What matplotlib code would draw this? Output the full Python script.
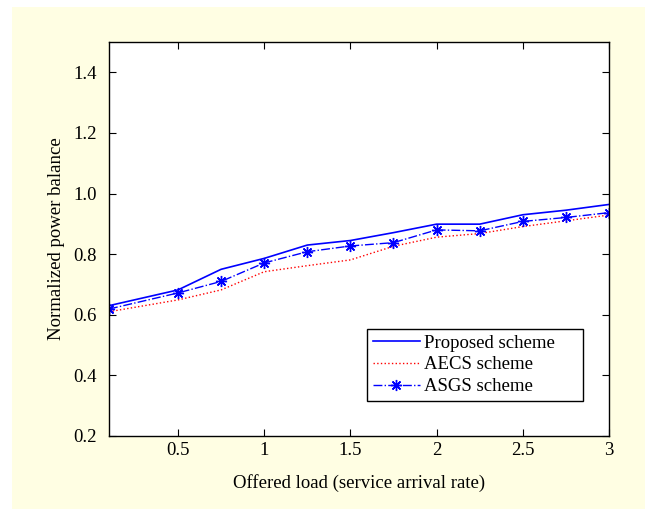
import matplotlib.pyplot as plt
from matplotlib.patches import Rectangle

# datos
load = [0.1, 0.5, 0.75, 1.0, 1.25, 1.5, 1.75, 2.0, 2.25, 2.5, 2.75, 3.0]
proposed = [0.630, 0.682, 0.750, 0.786, 0.830, 0.845, 0.871, 0.899, 0.899, 0.930, 0.945, 0.964]
aecs = [0.610, 0.649, 0.682, 0.742, 0.762, 0.781, 0.826, 0.856, 0.868, 0.891, 0.910, 0.929]
asgs = [0.619, 0.672, 0.710, 0.771, 0.808, 0.827, 0.838, 0.880, 0.877, 0.908, 0.921, 0.937]

xticks = [0.5, 1, 1.5, 2, 2.5, 3]
xtick_labels = ["0.5", "1", "1.5", "2", "2.5", "3"]
yticks = [0.2, 0.4, 0.6, 0.8, 1.0, 1.2, 1.4]
ytick_labels = ["0.2", "0.4", "0.6", "0.8", "1.0", "1.2", "1.4"]

FS = 13.5
plt.rcParams["font.family"] = ["Liberation Serif", "DejaVu Serif"]

fig = plt.figure(figsize=(6.45, 5.09), dpi=100)
fig.patch.set_facecolor("white")

# fondo amarillo claro
fig.patches.append(Rectangle((12 / 645, 0), 1 - 12 / 645, 1 - 7 / 509,
                             transform=fig.transFigure, facecolor="#FFFEE3",
                             edgecolor="none", zorder=-10))

ax = fig.add_axes([109 / 645, 73 / 509, 500 / 645, 394 / 509])
ax.set_facecolor("white")
ax.set_zorder(1)

ax.plot(load, proposed, color="#0000FF", lw=1.2, label="Proposed scheme")
ax.plot(load, aecs, color="#FF0000", lw=1.0, ls=":", label="AECS scheme")
ax.plot(load, asgs, color="#0000FF", lw=1.0, ls="-.", marker=(8, 2, 0),
        markersize=8, markeredgewidth=1.0, label="ASGS scheme")

ax.set_xlim(0.1, 3)
ax.set_ylim(0.2, 1.5)
ax.set_xticks(xticks)
ax.set_xticklabels(xtick_labels)
ax.set_yticks(yticks)
ax.set_yticklabels(ytick_labels)

ax.tick_params(direction="in", top=True, right=True, length=5, width=0.8,
               labelsize=FS)
ax.tick_params(axis="x", pad=4.5)
ax.tick_params(axis="y", pad=9)
for s in ax.spines.values():
    s.set_linewidth(1.0)

ax.set_xlabel("Offered load (service arrival rate)", fontsize=FS, labelpad=10.5)
ax.set_ylabel("Normalized power balance", fontsize=FS, labelpad=6)

# leyenda con el ancho del original
leg = ax.legend(loc="lower left", bbox_to_anchor=(0.516, 0.089, 0.432, 0.1),
                mode="expand", fontsize=FS, fancybox=False, framealpha=1,
                edgecolor="black", handlelength=2.5, borderpad=0.3,
                labelspacing=0.25, handletextpad=0.25, borderaxespad=0)
leg.get_frame().set_linewidth(1.0)

plt.savefig("out.png", dpi=100)
